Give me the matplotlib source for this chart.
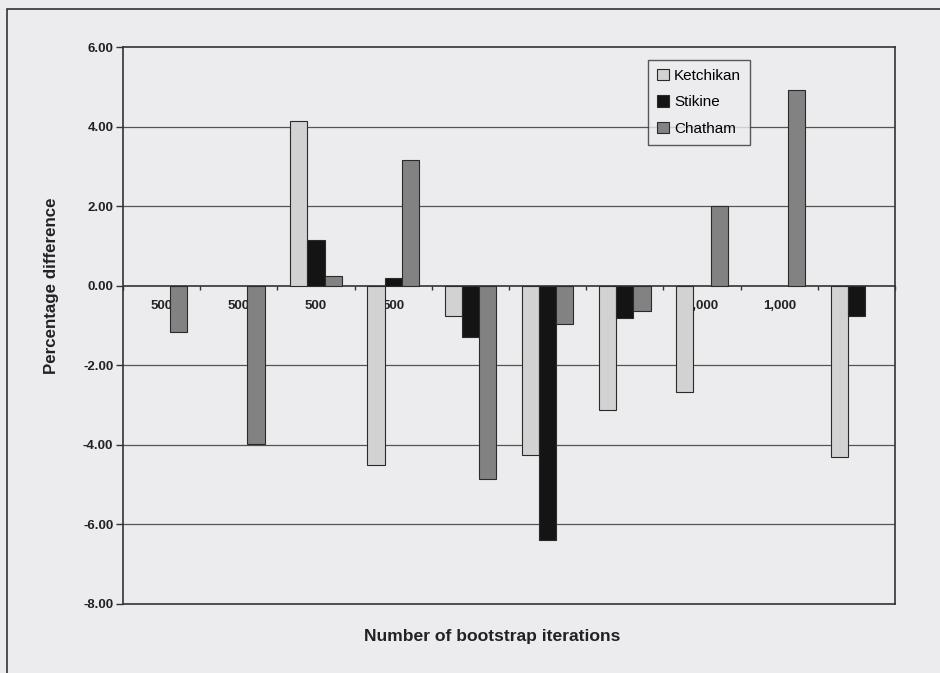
import matplotlib
matplotlib.use("Agg")
import matplotlib.pyplot as plt
import numpy as np
from matplotlib.patches import Rectangle, Patch

# ---- data ----
nan = float("nan")
categories = ["500", "500", "500", "500", "1,000", "1,000", "1,000", "1,000", "1,000", ""]
series_names = ["Ketchikan", "Stikine", "Chatham"]
ketchikan = [nan, nan, 4.15, -4.50, -0.77, -4.26, -3.12, -2.67, nan, -4.31]
stikine   = [nan, nan, 1.16, 0.19, -1.30, -6.40, -0.80, nan, nan, -0.75]
chatham   = [-1.16, -3.98, 0.24, 3.16, -4.85, -0.97, -0.64, 2.00, 4.92, nan]
yticks = [6, 4, 2, 0, -2, -4, -6, -8]

colors = ["#d2d2d2", "#141414", "#828282"]
bg = "#ecebed"

plt.rcParams['font.family'] = ['Liberation Sans', 'DejaVu Sans']

fig = plt.figure(figsize=(9.4, 6.73), dpi=100, facecolor=bg)
ax = fig.add_axes([123/940, 1 - 604/673, (895 - 123)/940, (604 - 47)/673])
ax.set_facecolor(bg)

# outer frame of the figure
fig.patches.append(Rectangle((7/940, -0.05), 1.2, (1 - 9/673) + 0.05, transform=fig.transFigure,
                             fill=False, edgecolor="#333333", linewidth=1.2))

n = len(categories)
x = np.arange(n)
w = 1 / 4.5
for i, (vals, name) in enumerate(zip([ketchikan, stikine, chatham], series_names)):
    ax.bar(x + (i - 1) * w, vals, width=w, color=colors[i], edgecolor="#2a2a2a",
           linewidth=0.8, zorder=3, label=name)

ax.set_xlim(-0.5, n - 0.5)
ax.set_ylim(-8, 6)

# gridlines
for yv in [4, 2, -2, -4, -6]:
    ax.axhline(yv, color="#555555", linewidth=0.9, zorder=1)
ax.axhline(-8, color="#333333", linewidth=1.2, zorder=1, clip_on=False)

# spines
for s in ["top", "right", "left"]:
    ax.spines[s].set_color("#333333")
    ax.spines[s].set_linewidth(1.2)
ax.spines["bottom"].set_position(("data", 0))
ax.spines["bottom"].set_color("#333333")
ax.spines["bottom"].set_linewidth(1.2)

ax.set_yticks(yticks)
ax.set_yticklabels([f"{v:.2f}" for v in yticks], fontsize=9.5, fontweight="bold", color="#222222")
ax.tick_params(axis="y", direction="out", length=5, width=1, color="#333333", pad=2)

ax.set_xticks(x)
ax.set_xticklabels(categories, fontsize=9.5, fontweight="bold", color="#222222")
ax.set_xticks(np.arange(n + 1) - 0.5, minor=True)
ax.tick_params(axis="x", which="major", length=0, pad=10)
ax.tick_params(axis="x", which="minor", direction="out", length=3, width=1, color="#333333")

fig.text(52/940, 1 - 286/673, "Percentage difference", fontsize=12.2, fontweight="bold",
         color="#222222", ha="center", va="center", rotation=90)
fig.text(492/940, 1 - 636/673, "Number of bootstrap iterations", fontsize=12.6, fontweight="bold",
         color="#222222", ha="center", va="center")

handles = [Patch(facecolor=colors[i], edgecolor="#2a2a2a", linewidth=0.8) for i in range(3)]
leg = ax.legend(handles, series_names, loc="upper left",
                bbox_to_anchor=((648 - 123) / 772, 1 - (60 - 47) / 557),
                fontsize=11, frameon=True, fancybox=False, handlelength=0.75, handleheight=0.75,
                handletextpad=0.35, labelspacing=0.8, borderpad=0.6, borderaxespad=0)
leg.get_frame().set_edgecolor("#333333")
leg.get_frame().set_facecolor(bg)
leg.get_frame().set_linewidth(1.0)
leg.set_zorder(5)

fig.savefig("out.png", dpi=100, facecolor=bg)
